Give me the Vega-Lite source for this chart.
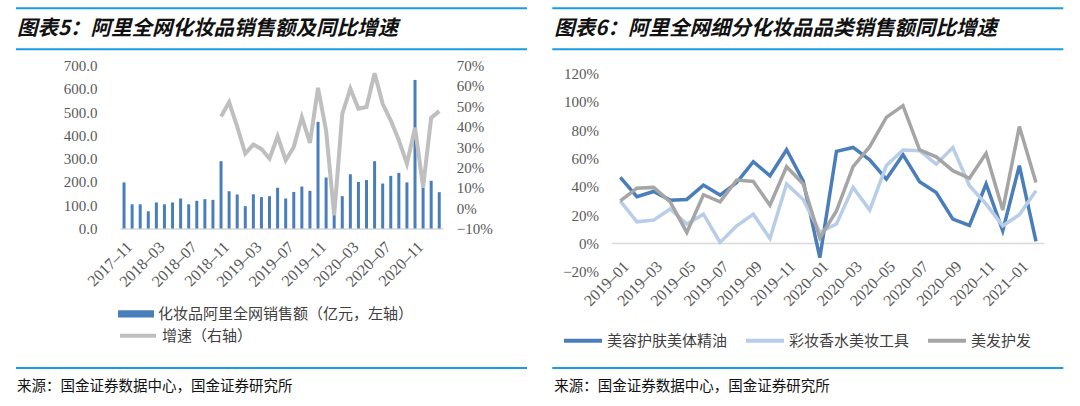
{
  "$schema": "https://vega.github.io/schema/vega-lite/v6.json",
  "padding": {"left": 15, "top": 6.5, "right": 0, "bottom": 0},
  "background": "white",
  "config": {
    "view": {"stroke": null},
    "font": "Noto Sans CJK SC",
    "axis": {"labelFont": "Liberation Serif", "labelFontSize": 15, "labelColor": "#595959", "ticks": false, "grid": false, "domain": false, "labelOverlap": false},
    "legend": {"labelFont": "Noto Sans CJK SC", "labelFontSize": 15, "labelColor": "#404040", "title": null, "labelLimit": 400}
  },
  "datasets": {
    "sales": [
      {"m": "2017-11", "sales": 198, "growth": null},
      {"m": "2017-12", "sales": 104, "growth": null},
      {"m": "2018-01", "sales": 104, "growth": null},
      {"m": "2018-02", "sales": 74, "growth": null},
      {"m": "2018-03", "sales": 112, "growth": null},
      {"m": "2018-04", "sales": 104, "growth": null},
      {"m": "2018-05", "sales": 112, "growth": null},
      {"m": "2018-06", "sales": 129, "growth": null},
      {"m": "2018-07", "sales": 104, "growth": null},
      {"m": "2018-08", "sales": 119, "growth": null},
      {"m": "2018-09", "sales": 126, "growth": null},
      {"m": "2018-10", "sales": 123, "growth": null},
      {"m": "2018-11", "sales": 289, "growth": 0.45},
      {"m": "2018-12", "sales": 160, "growth": 0.52},
      {"m": "2019-01", "sales": 146, "growth": 0.40},
      {"m": "2019-02", "sales": 96, "growth": 0.268},
      {"m": "2019-03", "sales": 147, "growth": 0.312},
      {"m": "2019-04", "sales": 135, "growth": 0.29},
      {"m": "2019-05", "sales": 139, "growth": 0.243},
      {"m": "2019-06", "sales": 175, "growth": 0.352},
      {"m": "2019-07", "sales": 129, "growth": 0.235},
      {"m": "2019-08", "sales": 157, "growth": 0.30},
      {"m": "2019-09", "sales": 180, "growth": 0.447},
      {"m": "2019-10", "sales": 162, "growth": 0.32},
      {"m": "2019-11", "sales": 458, "growth": 0.59},
      {"m": "2019-12", "sales": 219, "growth": 0.38},
      {"m": "2020-01", "sales": 140, "growth": -0.035},
      {"m": "2020-02", "sales": 139, "growth": 0.463},
      {"m": "2020-03", "sales": 233, "growth": 0.586},
      {"m": "2020-04", "sales": 200, "growth": 0.488},
      {"m": "2020-05", "sales": 208, "growth": 0.496},
      {"m": "2020-06", "sales": 289, "growth": 0.662},
      {"m": "2020-07", "sales": 193, "growth": 0.512},
      {"m": "2020-08", "sales": 226, "growth": 0.43},
      {"m": "2020-09", "sales": 239, "growth": 0.333},
      {"m": "2020-10", "sales": 198, "growth": 0.218},
      {"m": "2020-11", "sales": 638, "growth": 0.395},
      {"m": "2020-12", "sales": 176, "growth": 0.104},
      {"m": "2021-01", "sales": 205, "growth": 0.443},
      {"m": "2021-02", "sales": 156, "growth": 0.476}
    ],
    "cat": [
      {"m": "2019-01", "s": "美容护肤美体精油", "v": 0.466},
      {"m": "2019-02", "s": "美容护肤美体精油", "v": 0.33},
      {"m": "2019-03", "s": "美容护肤美体精油", "v": 0.367},
      {"m": "2019-04", "s": "美容护肤美体精油", "v": 0.306},
      {"m": "2019-05", "s": "美容护肤美体精油", "v": 0.311},
      {"m": "2019-06", "s": "美容护肤美体精油", "v": 0.412},
      {"m": "2019-07", "s": "美容护肤美体精油", "v": 0.342},
      {"m": "2019-08", "s": "美容护肤美体精油", "v": 0.43},
      {"m": "2019-09", "s": "美容护肤美体精油", "v": 0.577},
      {"m": "2019-10", "s": "美容护肤美体精油", "v": 0.478},
      {"m": "2019-11", "s": "美容护肤美体精油", "v": 0.662},
      {"m": "2019-12", "s": "美容护肤美体精油", "v": 0.44},
      {"m": "2020-01", "s": "美容护肤美体精油", "v": -0.10},
      {"m": "2020-02", "s": "美容护肤美体精油", "v": 0.65},
      {"m": "2020-03", "s": "美容护肤美体精油", "v": 0.678},
      {"m": "2020-04", "s": "美容护肤美体精油", "v": 0.59},
      {"m": "2020-05", "s": "美容护肤美体精油", "v": 0.455},
      {"m": "2020-06", "s": "美容护肤美体精油", "v": 0.627},
      {"m": "2020-07", "s": "美容护肤美体精油", "v": 0.436},
      {"m": "2020-08", "s": "美容护肤美体精油", "v": 0.36},
      {"m": "2020-09", "s": "美容护肤美体精油", "v": 0.172},
      {"m": "2020-10", "s": "美容护肤美体精油", "v": 0.127},
      {"m": "2020-11", "s": "美容护肤美体精油", "v": 0.42},
      {"m": "2020-12", "s": "美容护肤美体精油", "v": 0.09},
      {"m": "2021-01", "s": "美容护肤美体精油", "v": 0.55},
      {"m": "2021-02", "s": "美容护肤美体精油", "v": 0.014},
      {"m": "2019-01", "s": "彩妆香水美妆工具", "v": 0.30},
      {"m": "2019-02", "s": "彩妆香水美妆工具", "v": 0.153},
      {"m": "2019-03", "s": "彩妆香水美妆工具", "v": 0.165},
      {"m": "2019-04", "s": "彩妆香水美妆工具", "v": 0.243},
      {"m": "2019-05", "s": "彩妆香水美妆工具", "v": 0.137},
      {"m": "2019-06", "s": "彩妆香水美妆工具", "v": 0.207},
      {"m": "2019-07", "s": "彩妆香水美妆工具", "v": 0.007},
      {"m": "2019-08", "s": "彩妆香水美妆工具", "v": 0.125},
      {"m": "2019-09", "s": "彩妆香水美妆工具", "v": 0.207},
      {"m": "2019-10", "s": "彩妆香水美妆工具", "v": 0.035},
      {"m": "2019-11", "s": "彩妆香水美妆工具", "v": 0.42},
      {"m": "2019-12", "s": "彩妆香水美妆工具", "v": 0.31},
      {"m": "2020-01", "s": "彩妆香水美妆工具", "v": 0.08},
      {"m": "2020-02", "s": "彩妆香水美妆工具", "v": 0.137},
      {"m": "2020-03", "s": "彩妆香水美妆工具", "v": 0.396},
      {"m": "2020-04", "s": "彩妆香水美妆工具", "v": 0.236},
      {"m": "2020-05", "s": "彩妆香水美妆工具", "v": 0.55},
      {"m": "2020-06", "s": "彩妆香水美妆工具", "v": 0.66},
      {"m": "2020-07", "s": "彩妆香水美妆工具", "v": 0.655},
      {"m": "2020-08", "s": "彩妆香水美妆工具", "v": 0.56},
      {"m": "2020-09", "s": "彩妆香水美妆工具", "v": 0.678},
      {"m": "2020-10", "s": "彩妆香水美妆工具", "v": 0.408},
      {"m": "2020-11", "s": "彩妆香水美妆工具", "v": 0.278},
      {"m": "2020-12", "s": "彩妆香水美妆工具", "v": 0.125},
      {"m": "2021-01", "s": "彩妆香水美妆工具", "v": 0.203},
      {"m": "2021-02", "s": "彩妆香水美妆工具", "v": 0.372},
      {"m": "2019-01", "s": "美发护发", "v": 0.30},
      {"m": "2019-02", "s": "美发护发", "v": 0.39},
      {"m": "2019-03", "s": "美发护发", "v": 0.396},
      {"m": "2019-04", "s": "美发护发", "v": 0.294},
      {"m": "2019-05", "s": "美发护发", "v": 0.078},
      {"m": "2019-06", "s": "美发护发", "v": 0.344},
      {"m": "2019-07", "s": "美发护发", "v": 0.294},
      {"m": "2019-08", "s": "美发护发", "v": 0.448},
      {"m": "2019-09", "s": "美发护发", "v": 0.438},
      {"m": "2019-10", "s": "美发护发", "v": 0.27},
      {"m": "2019-11", "s": "美发护发", "v": 0.542},
      {"m": "2019-12", "s": "美发护发", "v": 0.42},
      {"m": "2020-01", "s": "美发护发", "v": 0.038},
      {"m": "2020-02", "s": "美发护发", "v": 0.23},
      {"m": "2020-03", "s": "美发护发", "v": 0.542},
      {"m": "2020-04", "s": "美发护发", "v": 0.683},
      {"m": "2020-05", "s": "美发护发", "v": 0.89},
      {"m": "2020-06", "s": "美发护发", "v": 0.973},
      {"m": "2020-07", "s": "美发护发", "v": 0.66},
      {"m": "2020-08", "s": "美发护发", "v": 0.612},
      {"m": "2020-09", "s": "美发护发", "v": 0.514},
      {"m": "2020-10", "s": "美发护发", "v": 0.46},
      {"m": "2020-11", "s": "美发护发", "v": 0.636},
      {"m": "2020-12", "s": "美发护发", "v": 0.236},
      {"m": "2021-01", "s": "美发护发", "v": 0.825},
      {"m": "2021-02", "s": "美发护发", "v": 0.43}
    ]
  },
  "spacing": 23,
  "resolve": {
    "scale": {"color": "independent", "fill": "independent", "stroke": "independent"},
    "legend": {"color": "independent", "fill": "independent", "stroke": "independent"}
  },
  "hconcat": [
    {
      "width": 323.3, "height": 163,
      "resolve": {"scale": {"x": "independent", "y": "independent"}},
      "layer": [
        {"data": {"values": [{}]},
         "mark": {"type": "rule", "color": "#1a9be3", "strokeWidth": 2},
         "encoding": {
           "x": {"datum": 0, "type": "quantitative", "scale": {"domain": [0, 1], "range": [-104, 407], "nice": false, "zero": false}, "axis": null},
           "x2": {"datum": 1},
           "y": {"datum": 0, "type": "quantitative", "scale": {"domain": [0, 1], "range": [-57.2, 321], "nice": false, "zero": false}, "axis": null}}},
        {"data": {"values": [{}]},
         "mark": {"type": "rule", "color": "#1a9be3", "strokeWidth": 2},
         "encoding": {
           "x": {"datum": 0, "type": "quantitative", "scale": {"domain": [0, 1], "range": [-104, 407], "nice": false, "zero": false}, "axis": null},
           "x2": {"datum": 1},
           "y": {"datum": 0.1084, "type": "quantitative", "scale": {"domain": [0, 1], "range": [-57.2, 321], "nice": false, "zero": false}, "axis": null}}},
        {"data": {"values": [{}]},
         "mark": {"type": "rule", "color": "#1a9be3", "strokeWidth": 2},
         "encoding": {
           "x": {"datum": 0, "type": "quantitative", "scale": {"domain": [0, 1], "range": [-104, 407], "nice": false, "zero": false}, "axis": null},
           "x2": {"datum": 1},
           "y": {"datum": 0.9513, "type": "quantitative", "scale": {"domain": [0, 1], "range": [-57.2, 321], "nice": false, "zero": false}, "axis": null}}},
        {"data": {"values": [{}]},
         "mark": {"type": "text", "text": "图表5：阿里全网化妆品销售额及同比增速", "align": "left", "baseline": "middle", "fontSize": 20.5, "fontWeight": "bold", "fontStyle": "italic", "color": "#111111", "dx": 1},
         "encoding": {
           "x": {"datum": 0, "type": "quantitative", "scale": {"domain": [0, 1], "range": [-104, 407], "nice": false, "zero": false}, "axis": null},
           "y": {"datum": 0.0542, "type": "quantitative", "scale": {"domain": [0, 1], "range": [-57.2, 321], "nice": false, "zero": false}, "axis": null}}},
        {"data": {"values": [{}]},
         "mark": {"type": "text", "text": "来源：国金证券数据中心，国金证券研究所", "align": "left", "baseline": "middle", "fontSize": 14.5, "color": "#111111", "dx": 1},
         "encoding": {
           "x": {"datum": 0, "type": "quantitative", "scale": {"domain": [0, 1], "range": [-104, 407], "nice": false, "zero": false}, "axis": null},
           "y": {"datum": 1, "type": "quantitative", "scale": {"domain": [0, 1], "range": [-57.2, 321], "nice": false, "zero": false}, "axis": null}}},
        {"data": {"name": "sales"},
         "mark": {"type": "bar", "width": 3},
         "encoding": {
           "x": {"field": "m", "type": "ordinal", "sort": null, "title": null,
                 "scale": {"type": "band", "paddingInner": 0, "paddingOuter": 0},
                 "axis": {"values": ["2017-11", "2018-03", "2018-07", "2018-11", "2019-03", "2019-07", "2019-11", "2020-03", "2020-07", "2020-11"], "labelExpr": "replace(datum.label, '-', '–')", "labelFontSize": 16, "labelAngle": -45, "labelPadding": 10, "domain": true, "domainColor": "#d9d9d9", "domainWidth": 1.5}},
           "y": {"field": "sales", "type": "quantitative", "title": null, "scale": {"domain": [0, 700], "nice": false},
                 "axis": {"orient": "left", "values": [0, 100, 200, 300, 400, 500, 600, 700], "format": ".1f", "labelPadding": 23}},
           "fill": {"datum": "化妆品阿里全网销售额（亿元，左轴）", "type": "nominal", "scale": {"range": ["#4a7ebb"]},
                    "legend": {"orient": "none", "legendX": -2, "legendY": 230.3, "symbolType": "M-1,-0.2H1V0.2H-1Z", "symbolSize": 1296, "symbolStrokeWidth": 0, "labelOffset": 4}}
         }},
        {"data": {"name": "sales"},
         "mark": {"type": "line", "strokeWidth": 4},
         "encoding": {
           "x": {"field": "m", "type": "ordinal", "sort": null, "title": null, "scale": {"type": "point", "padding": 0.5}, "axis": null},
           "y": {"field": "growth", "type": "quantitative", "title": null, "scale": {"domain": [-0.1, 0.7], "nice": false, "zero": false},
                 "axis": {"orient": "right", "values": [-0.1, 0, 0.1, 0.2, 0.3, 0.4, 0.5, 0.6, 0.7], "format": ".0%", "labelPadding": 13}},
           "stroke": {"datum": "增速（右轴）", "type": "nominal", "scale": {"range": ["#bfbfbf"]},
                      "legend": {"orient": "none", "legendX": -2, "legendY": 250.3, "symbolType": "stroke", "symbolSize": 1296, "symbolStrokeWidth": 4, "labelOffset": 4}}
         }}
      ]
    },
    {
      "width": 432.3, "height": 206.3,
      "resolve": {"scale": {"x": "independent", "y": "independent"}},
      "layer": [
        {"data": {"values": [{}]},
         "mark": {"type": "rule", "color": "#1a9be3", "strokeWidth": 2},
         "encoding": {
           "x": {"datum": 0, "type": "quantitative", "scale": {"domain": [0, 1], "range": [-59.7, 451.3], "nice": false, "zero": false}, "axis": null},
           "x2": {"datum": 1},
           "y": {"datum": 0, "type": "quantitative", "scale": {"domain": [0, 1], "range": [-57.2, 321], "nice": false, "zero": false}, "axis": null}}},
        {"data": {"values": [{}]},
         "mark": {"type": "rule", "color": "#1a9be3", "strokeWidth": 2},
         "encoding": {
           "x": {"datum": 0, "type": "quantitative", "scale": {"domain": [0, 1], "range": [-59.7, 451.3], "nice": false, "zero": false}, "axis": null},
           "x2": {"datum": 1},
           "y": {"datum": 0.1084, "type": "quantitative", "scale": {"domain": [0, 1], "range": [-57.2, 321], "nice": false, "zero": false}, "axis": null}}},
        {"data": {"values": [{}]},
         "mark": {"type": "rule", "color": "#1a9be3", "strokeWidth": 2},
         "encoding": {
           "x": {"datum": 0, "type": "quantitative", "scale": {"domain": [0, 1], "range": [-59.7, 451.3], "nice": false, "zero": false}, "axis": null},
           "x2": {"datum": 1},
           "y": {"datum": 0.9513, "type": "quantitative", "scale": {"domain": [0, 1], "range": [-57.2, 321], "nice": false, "zero": false}, "axis": null}}},
        {"data": {"values": [{}]},
         "mark": {"type": "text", "text": "图表6：阿里全网细分化妆品品类销售额同比增速", "align": "left", "baseline": "middle", "fontSize": 20.5, "fontWeight": "bold", "fontStyle": "italic", "color": "#111111", "dx": 2},
         "encoding": {
           "x": {"datum": 0, "type": "quantitative", "scale": {"domain": [0, 1], "range": [-59.7, 451.3], "nice": false, "zero": false}, "axis": null},
           "y": {"datum": 0.0542, "type": "quantitative", "scale": {"domain": [0, 1], "range": [-57.2, 321], "nice": false, "zero": false}, "axis": null}}},
        {"data": {"values": [{}]},
         "mark": {"type": "text", "text": "来源：国金证券数据中心，国金证券研究所", "align": "left", "baseline": "middle", "fontSize": 14.5, "color": "#111111", "dx": 2},
         "encoding": {
           "x": {"datum": 0, "type": "quantitative", "scale": {"domain": [0, 1], "range": [-59.7, 451.3], "nice": false, "zero": false}, "axis": null},
           "y": {"datum": 1, "type": "quantitative", "scale": {"domain": [0, 1], "range": [-57.2, 321], "nice": false, "zero": false}, "axis": null}}},
        {"data": {"values": [{}]},
         "mark": {"type": "rule", "color": "#d9d9d9", "strokeWidth": 1.5},
         "encoding": {"y": {"datum": 0, "type": "quantitative", "scale": {"domain": [-0.2, 1.2565], "nice": false, "zero": false}, "axis": null}}},
        {"data": {"name": "cat"},
         "mark": {"type": "line", "strokeWidth": 3.5},
         "encoding": {
           "x": {"field": "m", "type": "ordinal", "sort": null, "title": null,
                 "scale": {"type": "point", "padding": 0.5},
                 "axis": {"values": ["2019-01", "2019-03", "2019-05", "2019-07", "2019-09", "2019-11", "2020-01", "2020-03", "2020-05", "2020-07", "2020-09", "2020-11", "2021-01"], "labelExpr": "replace(datum.label, '-', '–')", "labelFontSize": 16, "labelAngle": -45, "labelPadding": -14}},
           "y": {"field": "v", "type": "quantitative", "title": null, "scale": {"domain": [-0.2, 1.2565], "nice": false, "zero": false},
                 "axis": {"values": [-0.2, 0, 0.2, 0.4, 0.6, 0.8, 1.0, 1.2], "format": ".0%", "labelPadding": 13.4}},
           "color": {"field": "s", "type": "nominal", "sort": ["美容护肤美体精油", "彩妆香水美妆工具", "美发护发"],
                     "scale": {"domain": ["美容护肤美体精油", "彩妆香水美妆工具", "美发护发"], "range": ["#4a7ebb", "#b7cde8", "#a5a5a5"]},
                     "legend": {"orient": "none", "direction": "horizontal", "columns": 3, "legendX": -50, "legendY": 254.3, "symbolType": "stroke", "symbolSize": 1444, "symbolStrokeWidth": 4, "labelOffset": 3, "columnPadding": 10}}
         }}
      ]
    }
  ]
}
